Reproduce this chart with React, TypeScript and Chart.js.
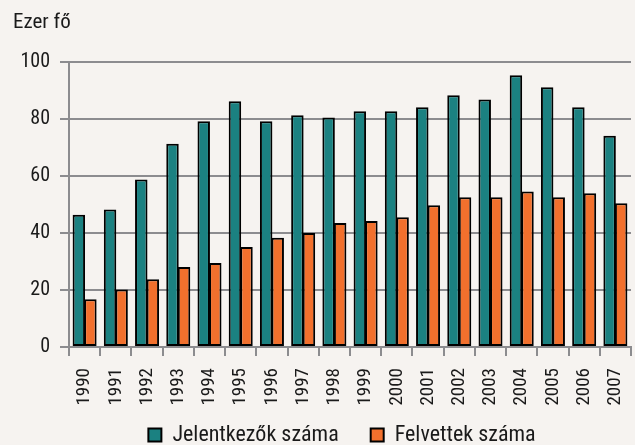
import { useEffect, useRef } from 'react';
import { Chart, registerables } from 'chart.js';

Chart.register(...registerables);

const categories = ['1990', '1991', '1992', '1993', '1994', '1995', '1996', '1997', '1998', '1999', '2000', '2001', '2002', '2003', '2004', '2005', '2006', '2007'];
const jelentkezok = [46.4, 48.3, 58.8, 71.4, 79.3, 86.3, 79.3, 81.4, 80.6, 82.8, 82.8, 84.2, 88.4, 86.9, 95.4, 91.2, 84.2, 74.2];
const felvettek = [16.8, 20.2, 23.8, 28.1, 29.5, 35.1, 38.4, 40.0, 43.5, 44.2, 45.6, 49.8, 52.6, 52.6, 54.6, 52.6, 54.0, 50.5];
const seriesNames = ['Jelentkezők száma', 'Felvettek száma'];
const yMin = 0;
const yMax = 100;
const yStep = 20;
const unitTitle = 'Ezer fő';

const FONT = "'Roboto Condensed', 'Liberation Sans Narrow', 'Arial Narrow', sans-serif";
const TEAL = '#1b8181';
const ORANGE = '#f2702d';
const GRID = '#8c8c8f';
const BG = '#f6f3f0';
const TEXT = '#1a1a1a';

const W = 635;
const H = 445;

// moves the legend row so it can share space with the tall rotated x labels
const legendShift = {
  id: 'legendShift',
  afterLayout(chart: any) {
    const lg = chart.legend;
    if (lg) {
      lg.top -= 15;
      lg.height = 80;
      lg.bottom = lg.top + lg.height;
      lg.left += 20;
      lg.right += 20;
    }
  },
};

export default function App() {
  const ref = useRef<HTMLCanvasElement>(null);
  useEffect(() => {
    document.body.style.margin = '0';
    const chart = new Chart(ref.current as HTMLCanvasElement, {
      type: 'bar',
      data: {
        labels: categories,
        datasets: [
          {
            label: seriesNames[0],
            data: jelentkezok,
            backgroundColor: TEAL,
            borderColor: '#000',
            borderWidth: 2,
            borderSkipped: false,
            categoryPercentage: 0.74,
            barPercentage: 1.08,
          },
          {
            label: seriesNames[1],
            data: felvettek,
            backgroundColor: ORANGE,
            borderColor: '#000',
            borderWidth: 2,
            borderSkipped: false,
            categoryPercentage: 0.74,
            barPercentage: 1.08,
          },
        ],
      },
      options: {
        responsive: false,
        animation: false,
        layout: { padding: { left: 13, right: 4, top: 0, bottom: 0 } },
        plugins: {
          title: {
            display: true,
            text: unitTitle,
            align: 'start',
            color: TEXT,
            font: { family: FONT, size: 21, weight: 'normal' },
            padding: { top: 10, bottom: 27 },
          },
          legend: {
            position: 'bottom',
            maxHeight: 38,
            labels: {
              boxWidth: 13,
              boxHeight: 13,
              color: TEXT,
              font: { family: FONT, size: 22 },
              padding: 32,
            },
          },
          tooltip: { enabled: false },
        },
        scales: {
          x: {
            grid: {
              offset: true,
              color: (c: any) => (c.index === categories.length ? GRID : 'rgba(0,0,0,0)'),
              tickColor: GRID,
              lineWidth: 2,
              tickLength: 9,
            },
            border: { color: GRID, width: 2 },
            ticks: {
              minRotation: 90,
              maxRotation: 90,
              padding: 12,
              color: TEXT,
              font: { family: FONT, size: 19 },
            },
            afterFit: (s: any) => {
              s.height = 60;
              s.paddingRight = 0;
              s.paddingLeft = 0;
            },
          },
          y: {
            min: yMin,
            max: yMax,
            ticks: {
              stepSize: yStep,
              padding: 10,
              color: TEXT,
              font: { family: FONT, size: 20 },
            },
            grid: { color: GRID, lineWidth: 2, tickLength: 9 },
            border: { color: GRID, width: 2 },
            afterFit: (s: any) => {
              s.width = 56;
            },
          },
        },
      },
      plugins: [legendShift],
    });
    return () => chart.destroy();
  }, []);
  return (
    <div style={{ position: 'absolute', left: 0, top: 0, width: W, height: H, overflow: 'hidden', background: BG }}>
      <canvas ref={ref} width={W} height={H} style={{ display: 'block' }} />
    </div>
  );
}
